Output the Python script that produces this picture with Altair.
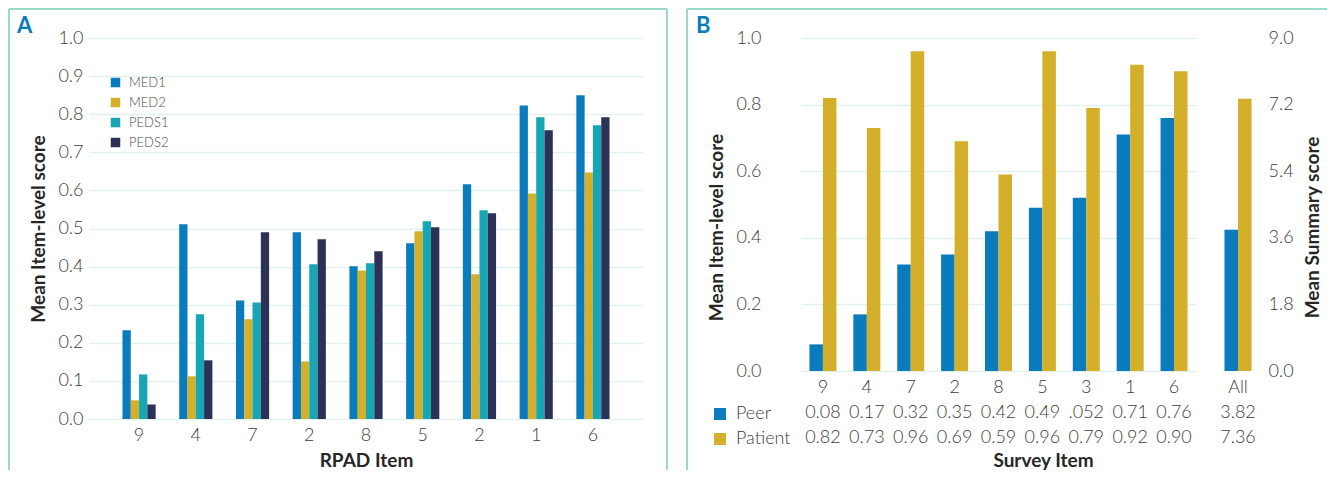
import json
import altair as alt
import pandas as pd

# ---------------- data ----------------
rpad_labels = ["9", "4", "7", "2", "8", "5", "2", "1", "6"]
series_a = ["MED1", "MED2", "PEDS1", "PEDS2"]
med1 = [0.233, 0.511, 0.311, 0.490, 0.401, 0.461, 0.616, 0.823, 0.850]
med2 = [0.049, 0.112, 0.262, 0.151, 0.390, 0.493, 0.380, 0.592, 0.647]
peds1 = [0.117, 0.275, 0.306, 0.406, 0.409, 0.519, 0.548, 0.792, 0.771]
peds2 = [0.038, 0.154, 0.490, 0.472, 0.440, 0.503, 0.540, 0.758, 0.792]

survey_items = ["9", "4", "7", "2", "8", "5", "3", "1", "6"]
series_b = ["Peer", "Patient"]
peer = [0.08, 0.17, 0.32, 0.35, 0.42, 0.49, 0.52, 0.71, 0.76]
patient = [0.82, 0.73, 0.96, 0.69, 0.59, 0.96, 0.79, 0.92, 0.90]
peer_text = ["0.08", "0.17", "0.32", "0.35", "0.42", "0.49", ".052", "0.71", "0.76"]
patient_text = ["0.82", "0.73", "0.96", "0.69", "0.59", "0.96", "0.79", "0.92", "0.90"]
all_label = "All"
all_peer = 3.82
all_patient = 7.36
all_peer_text = "3.82"
all_patient_text = "7.36"

# ---------------- style ----------------
BLUE = "#0a7bbd"
GOLD = "#d4af2a"
TEAL = "#17a6b4"
NAVY = "#2b3157"
BORDER = "#74cfba"
GRID = "#e3f1ee"
LABEL = "#3c3c3c"
TITLE = "#262626"
FONT = "Lato"

# ---------------- tables ----------------
keys_a = [str(i) for i in range(len(rpad_labels))]
rows = []
for i in range(len(rpad_labels)):
    for s, vals in zip(series_a, [med1, med2, peds1, peds2]):
        rows.append({"key": keys_a[i], "series": s, "value": vals[i]})
dfa = pd.DataFrame(rows)

rows = []
for i, it in enumerate(survey_items):
    rows.append({"item": it, "series": "Peer", "value": peer[i]})
    rows.append({"item": it, "series": "Patient", "value": patient[i]})
dfb = pd.DataFrame(rows)
dfall = pd.DataFrame([
    {"item": all_label, "series": "Peer", "value": all_peer},
    {"item": all_label, "series": "Patient", "value": all_patient},
])
one = pd.DataFrame({"k": [0]})

# ---------------- panel A ----------------
wA, hA = 554, 381
bars_a = alt.Chart(dfa).mark_bar().encode(
    x=alt.X("key:N", sort=keys_a,
            scale=alt.Scale(domain=keys_a, paddingInner=0.415, paddingOuter=0.59),
            axis=alt.Axis(title="RPAD Item", labelAngle=0, labelPadding=7, titlePadding=7,
                          labelExpr=f"{json.dumps(rpad_labels)}[toNumber(datum.value)]")),
    xOffset=alt.XOffset("series:N", sort=series_a,
                        scale=alt.Scale(domain=series_a, paddingInner=0, paddingOuter=0)),
    y=alt.Y("value:Q", scale=alt.Scale(domain=[0, 1]),
            axis=alt.Axis(title="Mean Item-level score", format=".1f",
                          values=[0, 0.1, 0.2, 0.3, 0.4, 0.5, 0.6, 0.7, 0.8, 0.9, 1.0],
                          labelPadding=6, titlePadding=9)),
    color=alt.Color("series:N", sort=series_a,
                    scale=alt.Scale(domain=series_a, range=[BLUE, GOLD, TEAL, NAVY]),
                    legend=alt.Legend(orient="none", legendX=20, legendY=38, title=None,
                                      symbolType="square", symbolSize=90, symbolStrokeWidth=0,
                                      labelFontSize=13, labelFont=FONT, labelFontWeight=300,
                                      labelColor="#4a4a4a", labelOffset=7, rowPadding=6)),
)
frame_a = [
    alt.Chart(one).mark_rule(color=BORDER, strokeWidth=1.5).encode(
        x=alt.value(-80), y=alt.value(-29), y2=alt.value(432)),
    alt.Chart(one).mark_rule(color=BORDER, strokeWidth=1.5).encode(
        x=alt.value(-80), x2=alt.value(578), y=alt.value(-29)),
    alt.Chart(one).mark_rule(color=BORDER, strokeWidth=1.5).encode(
        x=alt.value(578), y=alt.value(-29), y2=alt.value(432)),
    alt.Chart(one).mark_text(text="A", font=FONT, fontSize=22, fontWeight="bold", color=BLUE,
                             align="left", baseline="alphabetic").encode(
        x=alt.value(-72), y=alt.value(-5)),
]
panel_a = alt.layer(bars_a, *frame_a).properties(width=wA, height=hA)

# ---------------- panel B ----------------
wB, hB = 495, 333
lab_items = (f"[datum.value, {json.dumps(peer_text)}[indexof({json.dumps(survey_items)}, datum.value)], "
             f"{json.dumps(patient_text)}[indexof({json.dumps(survey_items)}, datum.value)]]")
lab_all = f"[datum.value, '{all_peer_text}', '{all_patient_text}']"

color_b = alt.Color("series:N", sort=series_b,
                    scale=alt.Scale(domain=series_b, range=[BLUE, GOLD]),
                    legend=alt.Legend(orient="none", legendX=-56, legendY=367, title=None,
                                      symbolType="square", symbolSize=144, symbolStrokeWidth=0,
                                      labelFontSize=18, labelFont=FONT, labelFontWeight=300,
                                      labelColor=LABEL, labelOffset=7, rowPadding=7))

items_b = alt.Chart(dfb).mark_bar().encode(
    x=alt.X("item:N", sort=survey_items,
            scale=alt.Scale(domain=survey_items, range=[34, 429], paddingInner=0.385, paddingOuter=0.1925),
            axis=alt.Axis(orient="bottom", title="Survey Item", titleX=276, labelAngle=0,
                          labelExpr=lab_items, labelLineHeight=25, labelPadding=7, titlePadding=5)),
    xOffset=alt.XOffset("series:N", sort=series_b,
                        scale=alt.Scale(domain=series_b, paddingInner=0, paddingOuter=0)),
    y=alt.Y("value:Q", scale=alt.Scale(domain=[0, 1]),
            axis=alt.Axis(orient="left", title="Mean Item-level score", format=".1f",
                          values=[0, 0.2, 0.4, 0.6, 0.8, 1.0], labelPadding=6, titlePadding=9,
                          titleY=189)),
    color=color_b,
)
all_b = alt.Chart(dfall).mark_bar().encode(
    x=alt.X("item:N",
            scale=alt.Scale(domain=[all_label], range=[449, 493], paddingInner=0.385, paddingOuter=0.1925),
            axis=alt.Axis(orient="bottom", title=None, labelAngle=0,
                          labelExpr=lab_all, labelLineHeight=25, labelPadding=7)),
    xOffset=alt.XOffset("series:N", sort=series_b,
                        scale=alt.Scale(domain=series_b, paddingInner=0, paddingOuter=0)),
    y=alt.Y("value:Q", scale=alt.Scale(domain=[0, 9]),
            axis=alt.Axis(orient="right", title="Mean Summary score", format=".1f", grid=False,
                          values=[0, 1.8, 3.6, 5.4, 7.2, 9.0], labelPadding=6, titlePadding=10,
                          titleAngle=270, titleBaseline="top", titleY=189)),
    color=alt.Color("series:N", sort=series_b,
                    scale=alt.Scale(domain=series_b, range=[BLUE, GOLD]), legend=None),
)
bars_b = alt.layer(items_b, all_b).resolve_scale(x="independent", y="independent",
                                                 xOffset="independent")
frame_b = [
    alt.Chart(one).mark_rule(color=BORDER, strokeWidth=1.5).encode(
        x=alt.value(-80), y=alt.value(-29), y2=alt.value(432)),
    alt.Chart(one).mark_rule(color=BORDER, strokeWidth=1.5).encode(
        x=alt.value(-80), x2=alt.value(560), y=alt.value(-29)),
    alt.Chart(one).mark_text(text="B", font=FONT, fontSize=22, fontWeight="bold", color=BLUE,
                             align="left", baseline="alphabetic").encode(
        x=alt.value(-71), y=alt.value(-5)),
]
panel_b = alt.layer(bars_b, *frame_b).properties(width=wB, height=hB)

chart = (
    alt.hconcat(panel_a, panel_b, spacing=18)
    .resolve_scale(color="independent")
    .properties(padding=0, background="white")
    .configure_view(stroke=None)
    .configure_axis(domain=False, ticks=False, labelFont=FONT, labelFontSize=18,
                    labelFontWeight=300, labelColor=LABEL, titleFont=FONT, titleFontSize=19,
                    titleFontWeight="bold", titleColor=TITLE, gridColor=GRID, gridWidth=1.5)
    .configure_axisX(grid=False)
    .configure_axisY(grid=True)
)

chart.save("out.html", embed_options={"renderer": "svg", "actions": False})
